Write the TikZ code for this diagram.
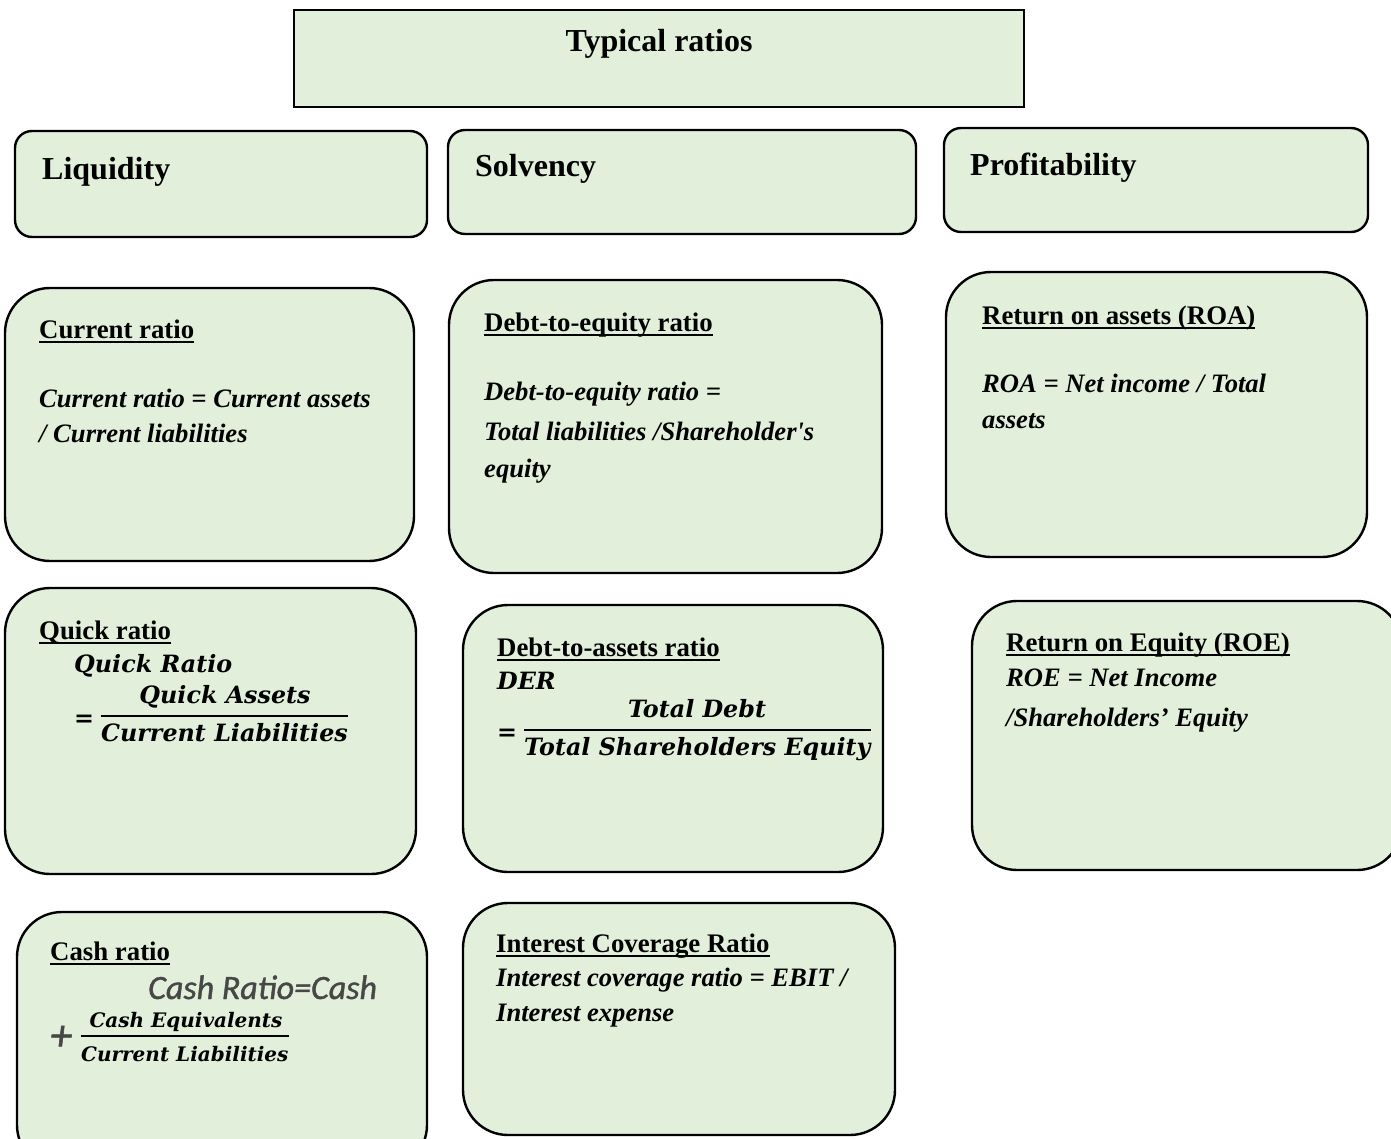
\documentclass[tikz,border=0pt]{standalone}
\usepackage{fontspec}
\setmainfont{Liberation Serif}[Ligatures=TeXOff]
\newfontfamily\mfont{DejaVu Serif}
\newfontfamily\cfont{Carlito}[FakeBold=1.2]
\definecolor{boxfill}{HTML}{E2EFDA}
\newcommand{\ulx}[1]{\setbox0\hbox{#1}\rlap{\rule[-4.5pt]{\wd0}{1.8pt}}\box0}
\tikzset{
  topbox/.style={draw, line width=2.6pt, fill=boxfill},
  hbox/.style={draw, line width=2.4pt, fill=boxfill, rounded corners=17pt},
  cbox/.style={draw, line width=2.4pt, fill=boxfill, rounded corners=45pt},
  hdr/.style={anchor=base west, inner sep=0pt, font=\fontsize{32}{38}\selectfont\bfseries},
  ttl/.style={anchor=base west, inner sep=0pt, font=\fontsize{26.8}{32}\selectfont\bfseries},
  body/.style={anchor=base west, inner sep=0pt, font=\fontsize{26.6}{32}\selectfont\bfseries\itshape},
  mth/.style={anchor=base west, inner sep=0pt, font=\fontsize{23.8}{28}\selectfont\mfont\bfseries\itshape},
  mths/.style={anchor=base west, inner sep=0pt, font=\fontsize{20}{24}\selectfont\mfont\bfseries\itshape},
  cal/.style={anchor=base west, inner sep=0pt, text=black!72, font=\fontsize{34}{40}\selectfont\cfont\itshape},
  fracrule/.style={line width=1.8pt}
}
\begin{document}
\begin{tikzpicture}[x=1pt,y=-1pt]
\useasboundingbox (0,0) rectangle (1391,1139);
\clip (0,0) rectangle (1391,1139);
% boxes
\draw[topbox] (294,10) rectangle (1024,107);
\draw[hbox] (15,131) rectangle (427,237);
\draw[hbox] (448,130) rectangle (916,234);
\draw[hbox] (944,128) rectangle (1368,232);
\draw[cbox] (5,288) rectangle (414,561);
\draw[cbox] (449,280) rectangle (882,573);
\draw[cbox] (946,272) rectangle (1367,557);
\draw[cbox] (5,588) rectangle (416,874);
\draw[cbox] (463,605) rectangle (883,872);
\draw[cbox] (972,601) rectangle (1402,870);
\draw[cbox] (17,912) rectangle (427,1170);
\draw[cbox] (463,903) rectangle (895,1135);
% headers
\node[hdr, anchor=base] (top) at (659,52) {Typical ratios};
\node[hdr] (liq) at (42,180) {Liquidity};
\node[hdr] (sol) at (475,177) {Solvency};
\node[hdr] (pro) at (970,176) {Profitability};
% current ratio
\node[ttl] (crt) at (39,338) {\ulx{Current ratio}};
\node[body] (cr1) at (39,407) {Current ratio = Current assets};
\node[body] (cr2) at (39,442) {/ Current liabilities};
% debt to equity
\node[ttl] (det) at (484,331) {\ulx{Debt-to-equity ratio}};
\node[body] (de1) at (484,400) {Debt-to-equity ratio =};
\node[body] (de2) at (484,440) {Total liabilities /Shareholder's};
\node[body] (de3) at (484,477) {equity};
% ROA
\node[ttl] (rat) at (982,324) {\ulx{Return on assets (ROA)}};
\node[body] (ra1) at (982,392) {ROA = Net income / Total};
\node[body] (ra2) at (982,428) {assets};
% quick ratio
\node[ttl] (qrt) at (39,639) {\ulx{Quick ratio}};
\node[mth] (qr1) at (74,672) {Quick Ratio};
\node[mth, anchor=base] (qrn) at (225,703) {Quick Assets};
\node[mth] (qre) at (74,726) {=};
\node[mth] (qrd) at (101,741) {Current Liabilities};
\draw[fracrule] (qrd.west |- 0,716) -- (qrd.east |- 0,716);
% debt to assets
\node[ttl] (dat) at (497,656) {\ulx{Debt-to-assets ratio}};
\node[mth] (da1) at (497,689) {DER};
\node[mth, anchor=base] (dan) at (697,717) {Total Debt};
\node[mth] (dae) at (497,740) {=};
\node[mth] (dad) at (524,755) {Total Shareholders Equity};
\draw[fracrule] (dad.west |- 0,730) -- (dad.east |- 0,730);
% ROE
\node[ttl] (ret) at (1006,651) {\ulx{Return on Equity (ROE)}};
\node[body] (re1) at (1006,686) {ROE = Net Income};
\node[body] (re2) at (1006,726) {/Shareholders’ Equity};
% cash ratio
\node[ttl] (cst) at (50,960) {\ulx{Cash ratio}};
\node[cal] (cs1) at (148,999) {Cash Ratio=Cash};
\node[cal, font=\fontsize{44}{48}\selectfont\cfont\itshape] (csp) at (50,1050) {+};
\node[mths, anchor=base] (csn) at (186,1027) {Cash Equivalents};
\node[mths] (csd) at (81,1061) {Current Liabilities};
\draw[fracrule] (csd.west |- 0,1036) -- (csd.east |- 0,1036);
% interest coverage
\node[ttl] (ict) at (496,952) {\ulx{Interest Coverage Ratio}};
\node[body] (ic1) at (496,986) {Interest coverage ratio = EBIT /};
\node[body] (ic2) at (496,1021) {Interest expense};
\end{tikzpicture}
\end{document}
